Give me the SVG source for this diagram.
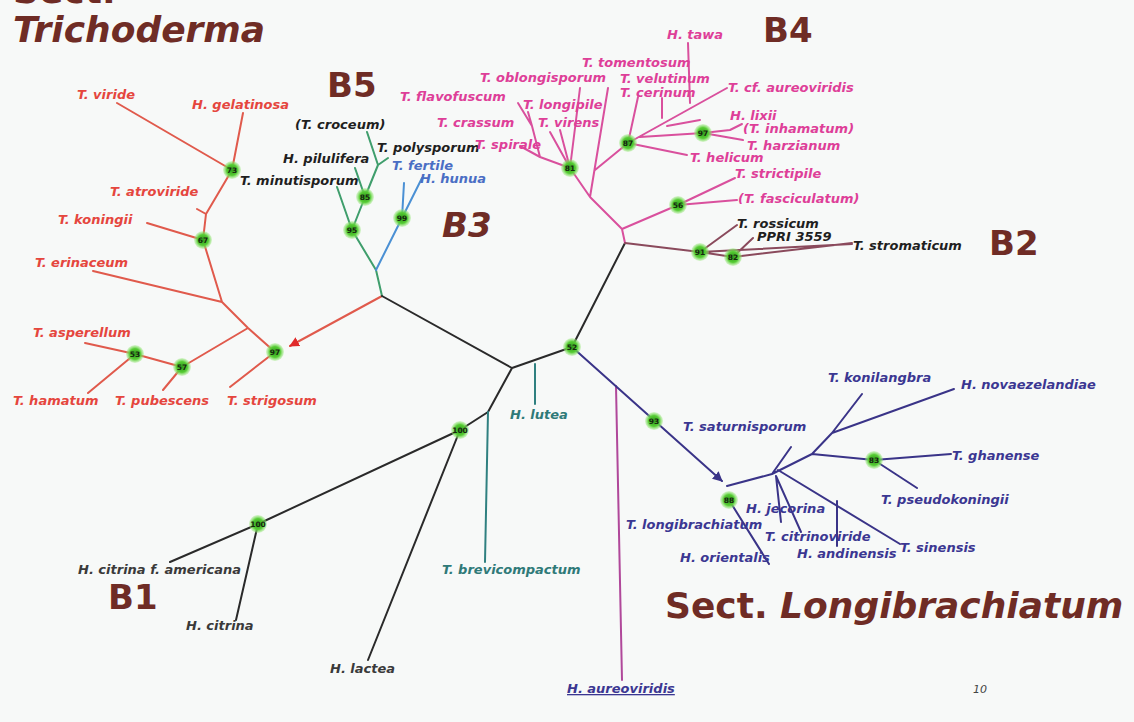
<svg xmlns="http://www.w3.org/2000/svg" width="1134" height="722" viewBox="0 0 1134 722">
<defs>
<style>
.t{font-family:"DejaVu Sans",Verdana,sans-serif;font-weight:bold;font-style:italic;font-size:13px}
.h{font-family:"DejaVu Sans",Verdana,sans-serif;font-weight:bold;fill:#6f2c25}
.red{fill:#e5463e}.pk{fill:#de3f98}.bk{fill:#1f1f1f}.bl{fill:#4a6ec4}.tl{fill:#2f7a78}.gy{fill:#3a3a3a}.nv{fill:#3b3792}
.n text{font-family:"DejaVu Sans",sans-serif;font-weight:bold;font-size:7.5px;fill:#16260f;text-anchor:middle}
.c{fill:none;stroke-width:2;stroke-linecap:round;stroke-linejoin:round}
.cr{stroke:#e05a4c}.cg{stroke:#3f9e6c}.cb{stroke:#4a90d4}.ck{stroke:#2a2a2a}.ct{stroke:#2f8080}.cn{stroke:#3a3488}.cp{stroke:#d9509d}.cm{stroke:#8a4a5c}.ca{stroke:#b0489a}
</style>
<radialGradient id="glow">
<stop offset="0" stop-color="#2f9a1c"/>
<stop offset="0.6" stop-color="#56cc34"/>
<stop offset="1" stop-color="#9eea80" stop-opacity="0.35"/>
</radialGradient>
<marker id="ar" viewBox="0 0 10 10" refX="9" refY="5" markerWidth="5" markerHeight="5" orient="auto" markerUnits="strokeWidth"><path d="M0,0 L10,5 L0,10 z" fill="#e02a2a"/></marker>
<marker id="an" viewBox="0 0 10 10" refX="9" refY="5" markerWidth="5" markerHeight="5" orient="auto" markerUnits="strokeWidth"><path d="M0,0 L10,5 L0,10 z" fill="#3a3488"/></marker>
</defs>
<rect width="1134" height="722" fill="#f7f9f8"/>

<g id="titles">
<text class="h" x="13" y="3" font-size="36">Sect.</text>
<text class="h" x="13" y="42" font-size="36" font-style="italic">Trichoderma</text>
<text class="h" x="327" y="97" font-size="34">B5</text>
<text class="h" x="763" y="42" font-size="34">B4</text>
<text class="h" x="442" y="237" font-size="34" font-style="italic">B3</text>
<text class="h" x="989" y="255" font-size="34">B2</text>
<text class="h" x="108" y="609" font-size="34">B1</text>
<text class="h" x="665" y="618" font-size="36">Sect. <tspan font-style="italic">Longibrachiatum</tspan></text>
<text x="973" y="693" font-family="DejaVu Sans,sans-serif" font-style="italic" font-size="11" fill="#444">10</text>
</g>

<g id="connectors">
<!-- red clade -->
<path class="c cr" d="M117,103L232,170M243,113L232,170M232,170L206,214L203,240M206,214L197,209M147,223L203,240M203,240L222,302L248,328L275,352M93,271L222,302M248,328L182,367M85,343L135,354L182,367M135,354L88,393M182,367L163,390M275,352L230,387"/>
<path class="c cr" d="M382,296L290,346" marker-end="url(#ar)"/>
<!-- green/blue -->
<path class="c cg" d="M382,296L376,270L352,230L337,187M352,230L365,197L355,168M365,197L378,165L367,132M378,165L388,158"/>
<path class="c cb" d="M376,270L402,218L404,183M402,218L422,178"/>
<!-- backbone -->
<path class="c ck" d="M382,296L512,368L572,347L625,243M512,368L488,412L460,430L258,524L170,562M460,430L368,660M258,524L236,620"/>
<path class="c ct" d="M535,364L535,404M488,412L485,562"/>
<path class="c ca" d="M616,386L622,680"/>
<!-- Longibrachiatum -->
<path class="c cn" d="M572,347L722,481" marker-end="url(#an)"/>
<path class="c cn" d="M727,486L772,474L791,447M772,474L812,454L832,433L954,389M832,433L862,394M812,454L874,460L951,454M874,460L917,488M778,470L900,544M837,501L837,546M776,476L781,522M776,476L801,532M729,500L769,564"/>
<!-- B4 -->
<path class="c cp" d="M625,243L622,229L678,205L735,178M678,205L737,200M622,229L590,197L570,168L540,157L520,146M540,157L532,126L518,103M532,126L528,112M570,168L560,130M570,168L550,132M570,168L580,88M590,197L608,88M595,170L628,143L727,88M628,143L638,97M662,118L662,98M690,103L688,43M628,143L687,155M640,137L703,133L730,130L742,124M703,133L743,140M667,126L700,120"/>
<!-- B2 -->
<path class="c cm" d="M625,243L700,252L737,225M700,252L733,257L753,238M733,257L852,243M700,252L852,244"/>
</g>

<g id="n73" class="n"><circle cx="232" cy="170" r="9" fill="url(#glow)"/><text x="232" y="173">73</text></g>
<g id="n67" class="n"><circle cx="203" cy="240" r="9" fill="url(#glow)"/><text x="203" y="243">67</text></g>
<g id="n97a" class="n"><circle cx="275" cy="352" r="9" fill="url(#glow)"/><text x="275" y="355">97</text></g>
<g id="n53" class="n"><circle cx="135" cy="354" r="9" fill="url(#glow)"/><text x="135" y="357">53</text></g>
<g id="n57" class="n"><circle cx="182" cy="367" r="9" fill="url(#glow)"/><text x="182" y="370">57</text></g>
<g id="n85" class="n"><circle cx="365" cy="197" r="9" fill="url(#glow)"/><text x="365" y="200">85</text></g>
<g id="n95" class="n"><circle cx="352" cy="230" r="9" fill="url(#glow)"/><text x="352" y="233">95</text></g>
<g id="n99" class="n"><circle cx="402" cy="218" r="9" fill="url(#glow)"/><text x="402" y="221">99</text></g>
<g id="n81" class="n"><circle cx="570" cy="168" r="9" fill="url(#glow)"/><text x="570" y="171">81</text></g>
<g id="n87" class="n"><circle cx="628" cy="143" r="9" fill="url(#glow)"/><text x="628" y="146">87</text></g>
<g id="n97b" class="n"><circle cx="703" cy="133" r="9" fill="url(#glow)"/><text x="703" y="136">97</text></g>
<g id="n56" class="n"><circle cx="678" cy="205" r="9" fill="url(#glow)"/><text x="678" y="208">56</text></g>
<g id="n91" class="n"><circle cx="700" cy="252" r="9" fill="url(#glow)"/><text x="700" y="255">91</text></g>
<g id="n82" class="n"><circle cx="733" cy="257" r="9" fill="url(#glow)"/><text x="733" y="260">82</text></g>
<g id="n52" class="n"><circle cx="572" cy="347" r="9" fill="url(#glow)"/><text x="572" y="350">52</text></g>
<g id="n93" class="n"><circle cx="654" cy="421" r="9" fill="url(#glow)"/><text x="654" y="424">93</text></g>
<g id="n88" class="n"><circle cx="729" cy="500" r="9" fill="url(#glow)"/><text x="729" y="503">88</text></g>
<g id="n83" class="n"><circle cx="874" cy="460" r="9" fill="url(#glow)"/><text x="874" y="463">83</text></g>
<g id="n100a" class="n"><circle cx="460" cy="430" r="9" fill="url(#glow)"/><text x="460" y="433">100</text></g>
<g id="n100b" class="n"><circle cx="258" cy="524" r="9" fill="url(#glow)"/><text x="258" y="527">100</text></g>

<g id="labels-red" class="t red">
<text x="77" y="99">T. viride</text>
<text x="192" y="109">H. gelatinosa</text>
<text x="110" y="196">T. atroviride</text>
<text x="58" y="224">T. koningii</text>
<text x="35" y="267">T. erinaceum</text>
<text x="33" y="337">T. asperellum</text>
<text x="13" y="405">T. hamatum</text>
<text x="115" y="405">T. pubescens</text>
<text x="227" y="405">T. strigosum</text>
</g>
<g id="labels-b5" class="t">
<text class="bk" x="295" y="129">(T. croceum)</text>
<text class="bk" x="283" y="163">H. pilulifera</text>
<text class="bk" x="240" y="185">T. minutisporum</text>
<text class="bk" x="377" y="152">T. polysporum</text>
<text class="bl" x="392" y="170">T. fertile</text>
<text class="bl" x="420" y="183">H. hunua</text>
</g>
<g id="labels-b4" class="t pk">
<text x="667" y="39">H. tawa</text>
<text x="582" y="67">T. tomentosum</text>
<text x="480" y="82">T. oblongisporum</text>
<text x="620" y="83">T. velutinum</text>
<text x="620" y="97">T. cerinum</text>
<text x="728" y="92">T. cf. aureoviridis</text>
<text x="400" y="101">T. flavofuscum</text>
<text x="523" y="109">T. longipile</text>
<text x="437" y="127">T. crassum</text>
<text x="538" y="127">T. virens</text>
<text x="475" y="149">T. spirale</text>
<text x="730" y="120">H. lixii</text>
<text x="743" y="133">(T. inhamatum)</text>
<text x="747" y="150">T. harzianum</text>
<text x="690" y="162">T. helicum</text>
<text x="735" y="178">T. strictipile</text>
<text x="738" y="203">(T. fasciculatum)</text>
</g>
<g id="labels-b2" class="t bk">
<text x="737" y="228">T. rossicum</text>
<text x="757" y="241">PPRI 3559</text>
<text x="853" y="250">T. stromaticum</text>
</g>
<g id="labels-b1" class="t">
<text class="tl" x="510" y="419">H. lutea</text>
<text class="tl" x="442" y="574">T. brevicompactum</text>
<text class="gy" x="78" y="574">H. citrina f. americana</text>
<text class="gy" x="186" y="630">H. citrina</text>
<text class="gy" x="330" y="673">H. lactea</text>
<text class="nv" x="567" y="693" text-decoration="underline">H. aureoviridis</text>
</g>
<g id="labels-longi" class="t nv">
<text x="828" y="382">T. konilangbra</text>
<text x="961" y="389">H. novaezelandiae</text>
<text x="683" y="431">T. saturnisporum</text>
<text x="952" y="460">T. ghanense</text>
<text x="881" y="504">T. pseudokoningii</text>
<text x="746" y="513">H. jecorina</text>
<text x="626" y="529">T. longibrachiatum</text>
<text x="765" y="541">T. citrinoviride</text>
<text x="900" y="552">T. sinensis</text>
<text x="797" y="558">H. andinensis</text>
<text x="680" y="562">H. orientalis</text>
</g>
</svg>
